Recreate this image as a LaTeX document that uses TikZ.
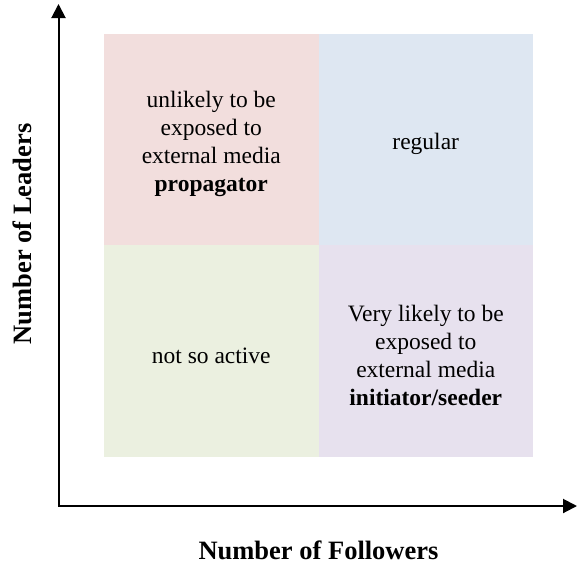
\documentclass[tikz,border=0pt]{standalone}
\usepackage{fontspec}
\setmainfont{Liberation Serif}
\usetikzlibrary{arrows.meta}
\definecolor{qpink}{HTML}{F2DEDD}
\definecolor{qblue}{HTML}{DEE7F2}
\definecolor{qgreen}{HTML}{EBF0E0}
\definecolor{qpurple}{HTML}{E7E1EE}
\tikzset{
  quad/.style={minimum width=214.5pt, minimum height=211.5pt, inner sep=0pt},
  quadtext/.style={align=center, inner sep=0pt, yshift=-5pt,
    font=\fontsize{23.5}{28}\selectfont},
  axislabel/.style={font=\fontsize{26.5}{30}\selectfont\bfseries, inner sep=0pt},
  axisline/.style={line width=2pt, {Triangle[length=14pt,width=14pt]}-{Triangle[length=14pt,width=14pt]}}
}
\begin{document}
\begin{tikzpicture}[x=1pt,y=-1pt]
\useasboundingbox (0,0) rectangle (578,566);
\node[quad, fill=qpink] (tl) at (211.25,139.25) {};
\node[quad, fill=qblue] (tr) at (425.75,139.25) {};
\node[quad, fill=qgreen] (bl) at (211.25,350.75) {};
\node[quad, fill=qpurple] (br) at (425.75,350.75) {};
\node[quadtext] (tlt) at (tl.center) {unlikely to be\\exposed to\\external media\\\textbf{propagator}};
\node[quadtext] (trt) at (tr.center) {regular};
\node[quadtext] (blt) at (bl.center) {not so active};
\node[quadtext] (brt) at (br.center) {Very likely to be\\exposed to\\external media\\\textbf{initiator/seeder}};
\coordinate (O) at (58.5,506);
\coordinate (Ytop) at (58.5,4);
\coordinate (Xend) at (577,506);
\draw[axisline] (Ytop) -- (O) -- (Xend);
\node[axislabel, rotate=90] (ylab) at (22.5,234) {Number of Leaders};
\node[axislabel] (xlab) at (318.5,550) {Number of Followers};
\end{tikzpicture}
\end{document}
